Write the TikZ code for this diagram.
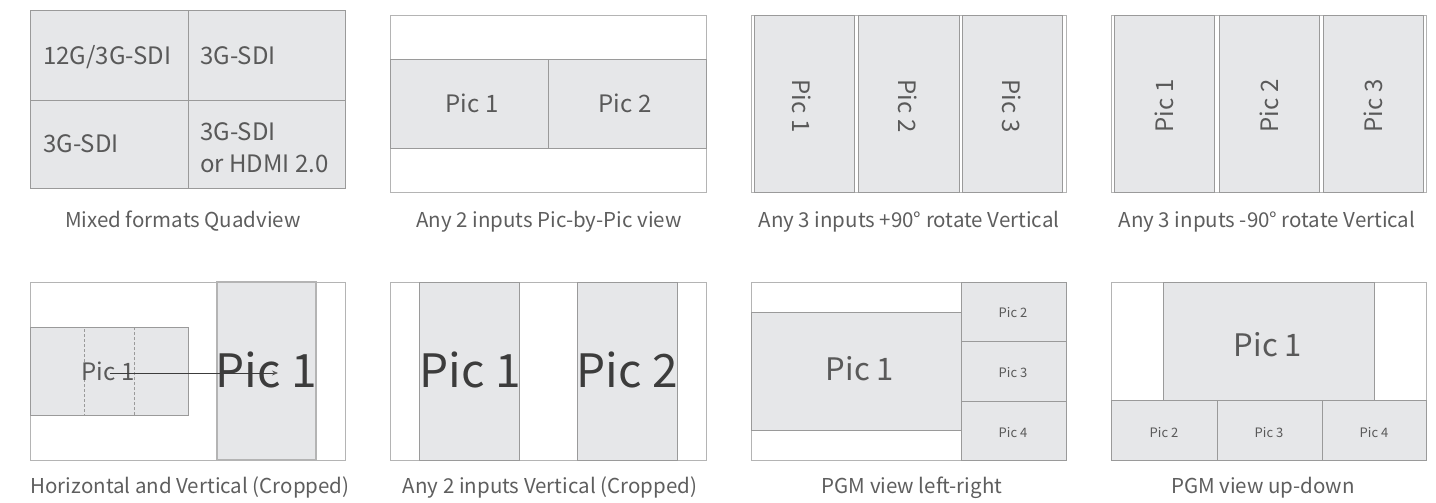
\documentclass[tikz,border=0pt]{standalone}
\usepackage{fontspec}
\setmainfont{Noto Sans CJK SC}
\usetikzlibrary{arrows.meta}
\definecolor{fillg}{HTML}{E6E7E9}
\definecolor{lineg}{HTML}{9A9A9A}
\definecolor{frameg}{HTML}{B4B4B4}
\definecolor{txt}{HTML}{595959}
\definecolor{txtd}{HTML}{3C3C3C}
\definecolor{cap}{HTML}{5E5E5E}
\tikzset{
  pic/.style={draw=lineg, fill=fillg, line width=0.9pt, inner sep=0pt, outer sep=0pt},
  frame/.style={draw=frameg, fill=white, line width=0.9pt, inner sep=0pt, outer sep=0pt},
  lbl/.style={text=txt, inner sep=0pt, anchor=base},
  caption/.style={text=cap, inner sep=0pt, anchor=base, font=\fontsize{20.5}{24}\selectfont},
  t22/.style={font=\fontsize{24}{28}\selectfont},
  t13/.style={font=\fontsize{13}{15}\selectfont},
  t30/.style={font=\fontsize{31}{36}\selectfont},
  t44/.style={text=txtd, font=\fontsize{46}{52}\selectfont},
}
% name, style, x1, y1, x2, y2
\newcommand\pbox[6]{\node[#2, anchor=north west, minimum width={(#5-#3)*1pt}, minimum height={(#6-#4)*1pt}] (#1) at (#3,#4) {};}
\begin{document}
\begin{tikzpicture}[x=1pt,y=-1pt]
\useasboundingbox (0,0) rectangle (1436,503);
% Panel 1
\pbox{qa}{pic}{30}{10}{188}{100}
\pbox{qb}{pic}{188}{10}{345}{100}
\pbox{qc}{pic}{30}{100}{188}{188}
\pbox{qd}{pic}{188}{100}{345}{188}
\node[lbl,t22,anchor=base west] (qat) at (43,65) {12G/3G-SDI};
\node[lbl,t22,anchor=base west] (qbt) at (200,65) {3G-SDI};
\node[lbl,t22,anchor=base west] (qct) at (43,152) {3G-SDI};
\node[lbl,t22,anchor=base west] (qdt) at (200,140) {3G-SDI};
\node[lbl,t22,anchor=base west] (qdt2) at (200,172) {or HDMI 2.0};
\node[caption] (c1) at (183,227) {Mixed formats Quadview};
% Panel 2
\pbox{f2}{frame}{390}{15}{706}{192}
\pbox{pa}{pic}{390}{59}{548}{148}
\pbox{pb}{pic}{548}{59}{706}{148}
\node[lbl,t22] (pat) at (472,113) {Pic 1};
\node[lbl,t22] (pbt) at (625,113) {Pic 2};
\node[caption] (c2) at (549,227) {Any 2 inputs Pic-by-Pic view};
% Panel 3
\pbox{f3}{frame}{751}{15}{1066}{192}
\pbox{ra}{pic}{754}{15}{854}{192}
\pbox{rb}{pic}{858}{15}{959}{192}
\pbox{rc}{pic}{962}{15}{1062}{192}
\node[lbl,t22,anchor=center,rotate=-90] (rat) at (802,106) {Pic 1};
\node[lbl,t22,anchor=center,rotate=-90] (rbt) at (908,106) {Pic 2};
\node[lbl,t22,anchor=center,rotate=-90] (rct) at (1012,106) {Pic 3};
\node[caption] (c3) at (909,227) {Any 3 inputs +90° rotate Vertical};
% Panel 4
\pbox{f4}{frame}{1111}{15}{1426}{192}
\pbox{sa}{pic}{1114}{15}{1214}{192}
\pbox{sb}{pic}{1219}{15}{1319}{192}
\pbox{sc}{pic}{1323}{15}{1423}{192}
\node[lbl,t22,anchor=center,rotate=90] (sat) at (1164,106) {Pic 1};
\node[lbl,t22,anchor=center,rotate=90] (sbt) at (1269,106) {Pic 2};
\node[lbl,t22,anchor=center,rotate=90] (sct) at (1373,106) {Pic 3};
\node[caption] (c4) at (1267,227) {Any 3 inputs -90° rotate Vertical};
% Panel 5
\pbox{f5}{frame}{30}{282}{345}{460}
\pbox{ha}{pic}{30}{327}{188}{415}
\pbox{hd}{draw=lineg, densely dashed, line width=0.8pt, inner sep=0pt, outer sep=0pt}{84}{327}{134}{415}
\pbox{hv}{pic, draw=frameg, line width=1.2pt}{217}{282}{316}{460}
\node[lbl,t22] (hat) at (108,380) {Pic 1};
\node[lbl,t44] (hvt) at (266,387) {Pic 1};
\coordinate (harr1) at (110,373);
\coordinate (harr2) at (278,373);
\draw[draw=txtd, line width=0.8pt, -{Stealth[length=6pt,width=5pt,color=txt]}] (harr1) -- (harr2);
\node[caption] (c5) at (190,493) {Horizontal and Vertical (Cropped)};
% Panel 6
\pbox{f6}{frame}{390}{282}{706}{460}
\pbox{va}{pic}{419}{282}{519}{460}
\pbox{vb}{pic}{577}{282}{677}{460}
\node[lbl,t44] (vat) at (470,387) {Pic 1};
\node[lbl,t44] (vbt) at (627,387) {Pic 2};
\node[caption] (c6) at (550,493) {Any 2 inputs Vertical (Cropped)};
% Panel 7
\pbox{f7}{frame}{751}{282}{1066}{460}
\pbox{la}{pic}{751}{312}{961}{430}
\pbox{lb}{pic}{961}{282}{1066}{341}
\pbox{lc}{pic}{961}{341}{1066}{401}
\pbox{ld}{pic}{961}{401}{1066}{460}
\node[lbl,t30] (lat) at (860,380) {Pic 1};
\node[lbl,t13] (lbt) at (1013,317) {Pic 2};
\node[lbl,t13] (lct) at (1013,377) {Pic 3};
\node[lbl,t13] (ldt) at (1013,437) {Pic 4};
\node[caption] (c7) at (912,493) {PGM view left-right};
% Panel 8
\pbox{f8}{frame}{1111}{282}{1426}{460}
\pbox{ua}{pic}{1163}{282}{1374}{400}
\pbox{ub}{pic}{1111}{400}{1217}{460}
\pbox{uc}{pic}{1217}{400}{1322}{460}
\pbox{ud}{pic}{1322}{400}{1426}{460}
\node[lbl,t30] (uat) at (1268,356) {Pic 1};
\node[lbl,t13] (ubt) at (1164,437) {Pic 2};
\node[lbl,t13] (uct) at (1269,437) {Pic 3};
\node[lbl,t13] (udt) at (1374,437) {Pic 4};
\node[caption] (c8) at (1263,493) {PGM view up-down};
\end{tikzpicture}
\end{document}
